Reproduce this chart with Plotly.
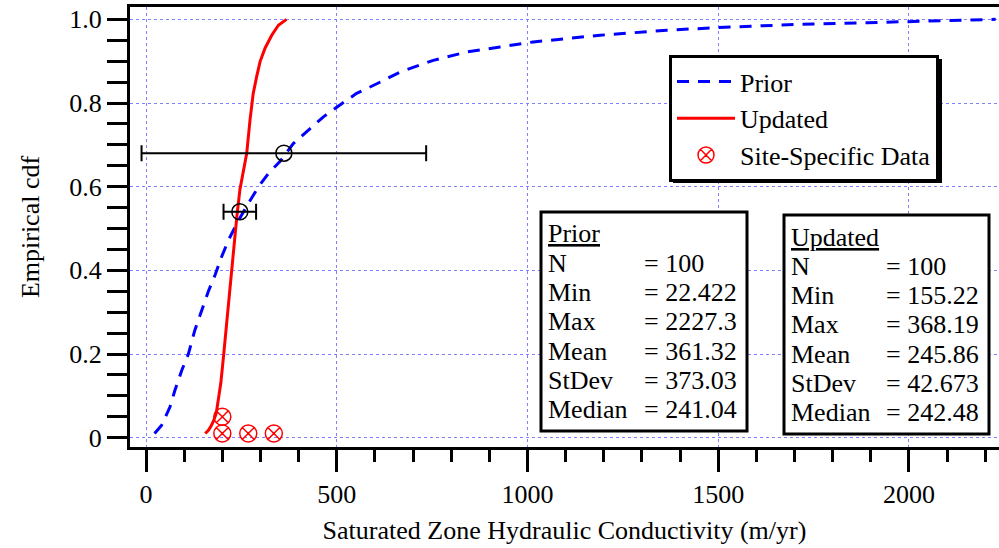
import plotly.graph_objects as go

# ---------------- data ----------------
prior_x = [22.4, 41, 63, 76, 94, 111, 128, 146, 163, 181, 198, 216, 238, 268, 295,
           321, 351, 386, 421, 465, 500, 552, 605, 666, 753, 841, 928, 1015, 1190,
           1365, 1540, 1715, 1890, 2064, 2227.3]
prior_y = [0.01, 0.03, 0.074, 0.114, 0.162, 0.2, 0.257, 0.305, 0.349, 0.389, 0.432,
           0.472, 0.512, 0.56, 0.6, 0.632, 0.66, 0.703, 0.731, 0.767, 0.79, 0.823,
           0.846, 0.874, 0.902, 0.922, 0.934, 0.946, 0.962, 0.974, 0.982, 0.988,
           0.992, 0.996, 1.0]

updated_x = [155.22, 163, 170, 177, 184, 190, 196, 203, 212, 220, 229, 238, 246, 257,
             264, 272.6, 281, 290, 299, 312, 329.5, 347, 368.19]
updated_y = [0.01, 0.017, 0.027, 0.04, 0.058, 0.09, 0.13, 0.193, 0.281, 0.369, 0.456,
             0.528, 0.592, 0.648, 0.68, 0.759, 0.823, 0.863, 0.899, 0.931, 0.962,
             0.986, 1.0]

site_x = [200, 200, 268, 335]
site_y = [0.05, 0.01, 0.01, 0.01]

mean_x = [245.86, 361.32]
mean_y = [0.54, 0.68]
mean_err = [42.673, 373.03]

x_tickvals = [0, 500, 1000, 1500, 2000]
x_ticktext = ["0", "500", "1000", "1500", "2000"]
y_tickvals = [0, 0.2, 0.4, 0.6, 0.8, 1.0]
y_ticktext = ["0", "0.2", "0.4", "0.6", "0.8", "1.0"]

stat_labels = ["N", "Min", "Max", "Mean", "StDev", "Median"]
prior_stats = ["100", "22.422", "2227.3", "361.32", "373.03", "241.04"]
updated_stats = ["100", "155.22", "368.19", "245.86", "42.673", "242.48"]

# ---------------- layout geometry ----------------
W, H = 999, 548
ML, MR, MT, MB = 130, 0, 7, 101
PW, PH = W - ML - MR, H - MT - MB
FONT = "Liberation Serif"


def px(x):
    return (x - ML) / PW


def py(y):
    return (H - MB - y) / PH


fig = go.Figure()

fig.add_trace(go.Scatter(x=prior_x, y=prior_y, mode="lines", name="Prior",
                         line=dict(color="#0000ff", width=3, dash="12px,9px")))
fig.add_trace(go.Scatter(x=updated_x, y=updated_y, mode="lines", name="Updated",
                         line=dict(color="#ff0000", width=3)))
fig.add_trace(go.Scatter(x=site_x, y=site_y, mode="markers", name="Site-Specific Data",
                         marker=dict(symbol="circle-x-open", size=17, color="#ff0000",
                                     line=dict(width=1.5, color="#ff0000"))))
fig.add_trace(go.Scatter(x=mean_x, y=mean_y, mode="markers", showlegend=False,
                         marker=dict(symbol="circle-open", size=16, color="black",
                                     line=dict(width=1.5, color="black")),
                         error_x=dict(type="data", array=mean_err, color="black",
                                      thickness=2, width=8)))

shapes = []
annotations = []


def stat_box(x0, x1, y0, y1, title, values, lab_x, eq_x, title_y):
    shapes.append(dict(type="rect", xref="paper", yref="paper",
                       x0=px(x0), x1=px(x1), y0=py(y1), y1=py(y0),
                       line=dict(color="black", width=3), fillcolor="white",
                       layer="above"))
    annotations.append(dict(xref="paper", yref="paper", x=px(lab_x), y=py(title_y),
                            xanchor="left", yanchor="middle", showarrow=False,
                            text="<u>%s</u>" % title,
                            font=dict(family=FONT, size=26, color="black")))
    for i, (lab, val) in enumerate(zip(stat_labels, values)):
        yy = title_y + 29.3 * (i + 1)
        annotations.append(dict(xref="paper", yref="paper", x=px(lab_x), y=py(yy),
                                xanchor="left", yanchor="middle", showarrow=False,
                                text=lab, font=dict(family=FONT, size=26, color="black")))
        annotations.append(dict(xref="paper", yref="paper", x=px(eq_x), y=py(yy),
                                xanchor="left", yanchor="middle", showarrow=False,
                                text="= " + val, font=dict(family=FONT, size=26, color="black")))


stat_box(541, 747, 212, 431, "Prior", prior_stats, 546, 642, 234)
stat_box(784, 989, 215, 434, "Updated", updated_stats, 789, 884, 237)

# legend shadow
shapes.append(dict(type="rect", xref="paper", yref="paper",
                   x0=px(673), x1=px(942), y0=py(183), y1=py(59),
                   line=dict(color="black", width=0), fillcolor="black", layer="above"))

fig.update_layout(
    width=W, height=H,
    margin=dict(l=ML, r=MR, t=MT, b=MB),
    paper_bgcolor="white", plot_bgcolor="white",
    font=dict(family=FONT, size=26, color="black"),
    showlegend=True,
    legend=dict(x=px(669), y=py(55), xanchor="left", yanchor="top",
                bgcolor="white", bordercolor="black", borderwidth=3,
                font=dict(family=FONT, size=26, color="black"),
                itemwidth=58, tracegroupgap=0),
    shapes=shapes,
    annotations=annotations,
    xaxis=dict(range=[-42, 2236], tickvals=x_tickvals, ticktext=x_ticktext,
               showgrid=True, gridcolor="#8080ff", gridwidth=1, griddash="dot",
               zeroline=False, showline=True, linecolor="black", linewidth=3,
               mirror=True, ticks="outside", ticklen=22, tickwidth=3,
               tickcolor="black", tickfont=dict(family=FONT, size=26),
               minor=dict(dtick=100, tick0=0, ticks="outside", ticklen=12,
                          tickwidth=3, tickcolor="black", showgrid=False),
               title=dict(text="Saturated Zone Hydraulic Conductivity (m/yr)",
                          font=dict(family=FONT, size=26), standoff=13)),
    yaxis=dict(range=[-0.0222, 1.0295], tickvals=y_tickvals, ticktext=y_ticktext,
               showgrid=True, gridcolor="#8080ff", gridwidth=1, griddash="dot",
               zeroline=False, showline=True, linecolor="black", linewidth=3,
               ticks="outside", ticklen=20, tickwidth=3, tickcolor="black",
               tickfont=dict(family=FONT, size=26),
               minor=dict(dtick=0.05, tick0=0, ticks="outside", ticklen=20,
                          tickwidth=3, tickcolor="black", showgrid=False),
               title=dict(text="Empirical cdf", font=dict(family=FONT, size=26),
                          standoff=23)),
)

fig.write_html("out.html", config={"displayModeBar": False},
               post_script="document.body.style.margin='0';document.body.style.overflow='hidden';")
